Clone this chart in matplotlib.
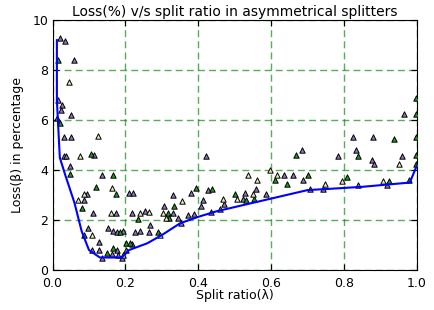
import matplotlib
matplotlib.use('Agg')
import matplotlib.pyplot as plt

# minimum-loss curve
line_x = [0.012, 0.012, 0.02, 0.035, 0.06, 0.08, 0.10, 0.13, 0.19, 0.21, 0.26, 0.30, 0.35, 0.40, 0.45, 0.70, 0.75, 0.85, 0.98, 1.0]
line_y = [9.2, 6.8, 4.5, 3.8, 2.7, 1.55, 0.8, 0.5, 0.5, 0.8, 1.07, 1.4, 1.87, 2.13, 2.35, 3.2, 3.24, 3.33, 3.5, 4.2]

purple_x = [0.021, 0.034, 0.06, 0.016, 0.025, 0.023, 0.05, 0.013, 0.032, 0.05, 0.032, 0.038, 0.115, 0.048,
            0.135, 0.094, 0.087, 0.112, 0.173, 0.209, 0.22, 0.098, 0.153, 0.167, 0.176, 0.194, 0.128, 0.107,
            0.128, 0.162, 0.176, 0.181, 0.202, 0.135, 0.19, 0.331, 0.38, 0.414, 0.407, 0.426, 0.217, 0.254,
            0.307, 0.331, 0.345, 0.267, 0.226, 0.24, 0.265, 0.219, 0.684, 0.635, 0.659, 0.686, 0.528, 0.558,
            0.586, 0.522, 0.47, 0.46, 0.435, 0.42, 0.373, 0.389, 0.352, 0.964, 0.824, 0.878, 0.833, 0.784,
            0.876, 0.882, 0.958, 0.917, 0.705, 0.741, 0.837]
purple_y = [9.27, 9.17, 8.4, 6.8, 6.6, 6.4, 6.2, 6.1, 5.33, 5.33, 4.57, 4.57, 4.6, 4.17,
            3.8, 3.03, 2.8, 2.27, 2.27, 3.07, 3.07, 1.67, 1.67, 1.56, 1.53, 1.56, 1.13, 0.8,
            0.8, 0.63, 0.8, 0.6, 0.8, 0.49, 0.47, 3.0, 3.07, 2.8, 2.57, 3.2, 2.27, 2.36,
            2.57, 2.27, 2.09, 1.8, 1.53, 1.56, 1.53, 1.04, 4.8, 3.8, 3.8, 3.6, 3.07, 3.23,
            3.04, 2.83, 2.64, 2.43, 2.33, 4.56, 2.2, 2.23, 1.87, 6.24, 5.33, 5.33, 4.8, 4.56,
            4.4, 4.24, 4.57, 3.4, 3.24, 3.23, 3.4]

green_x = [0.016, 0.021, 0.105, 0.048, 0.165, 0.118, 0.174, 0.08, 0.085, 0.185, 0.149, 0.167, 0.202,
           0.393, 0.438, 0.235, 0.334, 0.318, 0.32, 0.289, 0.213, 0.668, 0.702, 0.609, 0.644, 0.501,
           0.531, 0.554, 0.997, 0.997, 0.938, 0.997, 0.837, 0.997, 0.997, 0.807, 0.924, 0.979]
green_y = [8.4, 5.87, 4.63, 3.83, 3.8, 3.33, 3.03, 2.49, 1.4, 1.51, 0.67, 0.87, 1.07,
           3.27, 3.24, 2.04, 2.57, 2.27, 2.09, 1.53, 1.07, 4.6, 3.8, 3.6, 3.44, 3.04,
           2.8, 2.83, 6.87, 6.24, 5.23, 5.33, 4.57, 4.6, 4.24, 3.71, 3.57, 3.6]

pale_x = [0.046, 0.126, 0.075, 0.164, 0.085, 0.071, 0.16, 0.109, 0.193, 0.356, 0.24, 0.266, 0.304,
          0.31, 0.295, 0.597, 0.537, 0.615, 0.562, 0.549, 0.507, 0.469, 0.951, 0.748, 0.793, 0.906]
pale_y = [7.53, 5.36, 4.56, 3.27, 3.03, 2.8, 2.27, 1.4, 0.6, 2.76, 2.27, 2.31, 2.27,
          2.09, 1.4, 4.0, 3.8, 3.8, 3.6, 3.04, 2.83, 2.83, 4.24, 3.43, 3.57, 3.57]

fig = plt.figure(figsize=(4.34, 3.10), dpi=100)
ax = fig.add_axes([0.121, 0.129, 0.840, 0.806])

kw = dict(marker='^', s=15, edgecolors='black', linewidths=0.7, zorder=3)
ax.scatter(purple_x, purple_y, c='#8878b8', **kw)
ax.scatter(green_x, green_y, c='#1e9a1e', **kw)
ax.scatter(pale_x, pale_y, c='#ecebc0', **kw)
ax.plot(line_x, line_y, color='#0000ff', lw=1.5, zorder=4)

ax.set_xlim(0, 1)
ax.set_ylim(0, 10)
ax.set_xticks([0.0, 0.2, 0.4, 0.6, 0.8, 1.0])
ax.set_yticks([0, 2, 4, 6, 8, 10])
ax.grid(True, color='green', linestyle=(0, (5, 3)), lw=1, alpha=0.65)
ax.tick_params(direction='in', top=True, right=True, labelsize=9, length=4)
ax.tick_params(axis='x', pad=5)
ax.tick_params(axis='y', pad=3)
ax.set_xlabel('Split ratio(λ)', fontsize=9, labelpad=-1)
ax.set_ylabel('Loss(β) in percentage', fontsize=9, labelpad=6)
ax.set_title('Loss(%) v/s split ratio in asymmetrical splitters', fontsize=10, pad=3)

fig.savefig('out.png', dpi=100)
